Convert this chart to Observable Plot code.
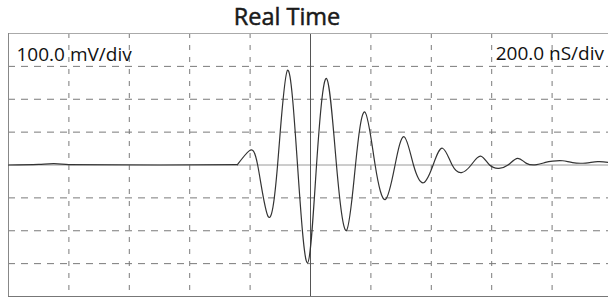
<!DOCTYPE html>
<html>
<head>
<meta charset="utf-8">
<script src="https://cdn.jsdelivr.net/npm/d3@7"></script>
<script src="https://cdn.jsdelivr.net/npm/@observablehq/plot@0.6"></script>
<style>
  html, body { margin: 0; padding: 0; background: #fff; }
  #wrap { width: 608px; }
  #title { display: block; width: 574px; height: 32px; text-align: center;
           font: 400 23.5px "Open Sans", sans-serif; line-height: normal; color: #1a1a1a;
           -webkit-text-stroke: 0.5px #1a1a1a; white-space: nowrap; overflow: visible; }
  #chart { display: block; height: 265px; }
  #chart svg { display: block; }
</style>
</head>
<body>
<div id="wrap">
  <div id="title">Real Time</div>
  <div id="chart"></div>
</div>
<script>
// Time (ns) and voltage (mV) of the trace
const timeNs = [0, 100, 150, 200, 500, 758, 797, 825, 860, 891, 924, 957, 990, 1020, 1053, 1086, 1119, 1149, 1180, 1214, 1248, 1280, 1310, 1341, 1374, 1406, 1437, 1469, 1500, 1532, 1563, 1593, 1624, 1654, 1686, 1715, 1749, 1778, 1802, 1835, 1868, 1911, 1951, 1987, 2000];
const voltageMv = [0, 2, 4, 1, 0, 1, 43, 0, -157, 0, 288, 0, -298, 0, 263, 0, -199, 0, 161, 0, -105, 0, 86, 0, -54, 0, 51, 0, -23, 0, 27, 0, -10, 0, 20, 5, 1, 8, 12, 13, 7, 6, 10, 8, 6];
const burstStartNs = 758;

// Grid divisions
const gridTimes = [200, 400, 600, 800, 1200, 1400, 1600, 1800];
const gridVolts = [-300, -200, -100, 100, 200, 300];
const centerTime = [1000];
const centerVolt = [0];

const voltLabel = "100.0 mV/div";
const timeLabel = "200.0 nS/div";

const data = timeNs.map((t, i) => ({t, v: voltageMv[i]}));

const chart = Plot.plot({
  width: 608,
  height: 265,
  marginLeft: 8,
  marginRight: -4,
  marginTop: 1,
  marginBottom: 1,
  x: {domain: [0, 2000], axis: null},
  y: {domain: [-400, 400], axis: null},
  marks: [
    Plot.ruleX(gridTimes, {stroke: "#7a7a7a", strokeWidth: 1, strokeDasharray: "5,7"}),
    Plot.ruleY(gridVolts, {stroke: "#7a7a7a", strokeWidth: 1, strokeDasharray: "7,6"}),
    Plot.ruleY(centerVolt, {stroke: "#9a9a9a", strokeWidth: 1}),
    Plot.ruleX(centerTime, {stroke: "#555", strokeWidth: 1}),
    Plot.ruleY([400], {stroke: "#aaa", strokeWidth: 1}),
    Plot.ruleY([-400], {stroke: "#777", strokeWidth: 1.2}),
    Plot.ruleX([0], {stroke: "#888", strokeWidth: 1}),
    Plot.line(data, {filter: d => d.t <= burstStartNs, x: "t", y: "v", curve: "monotone-x", stroke: "#333", strokeWidth: 1.2}),
    Plot.line(data, {filter: d => d.t >= burstStartNs, x: "t", y: "v", curve: "natural", stroke: "#333", strokeWidth: 1.2}),
    Plot.text([voltLabel], {frameAnchor: "top-left", lineAnchor: "bottom", textAnchor: "start",
      dx: 8, dy: 27.7, fontSize: 19, fontFamily: "Open Sans", fill: "#111"}),
    Plot.text([timeLabel], {frameAnchor: "top-right", lineAnchor: "bottom", textAnchor: "end",
      dx: -8.5, dy: 26.3, fontSize: 19, fontFamily: "Open Sans", fill: "#111"})
  ]
});
document.getElementById("chart").appendChild(chart);
</script>
</body>
</html>
